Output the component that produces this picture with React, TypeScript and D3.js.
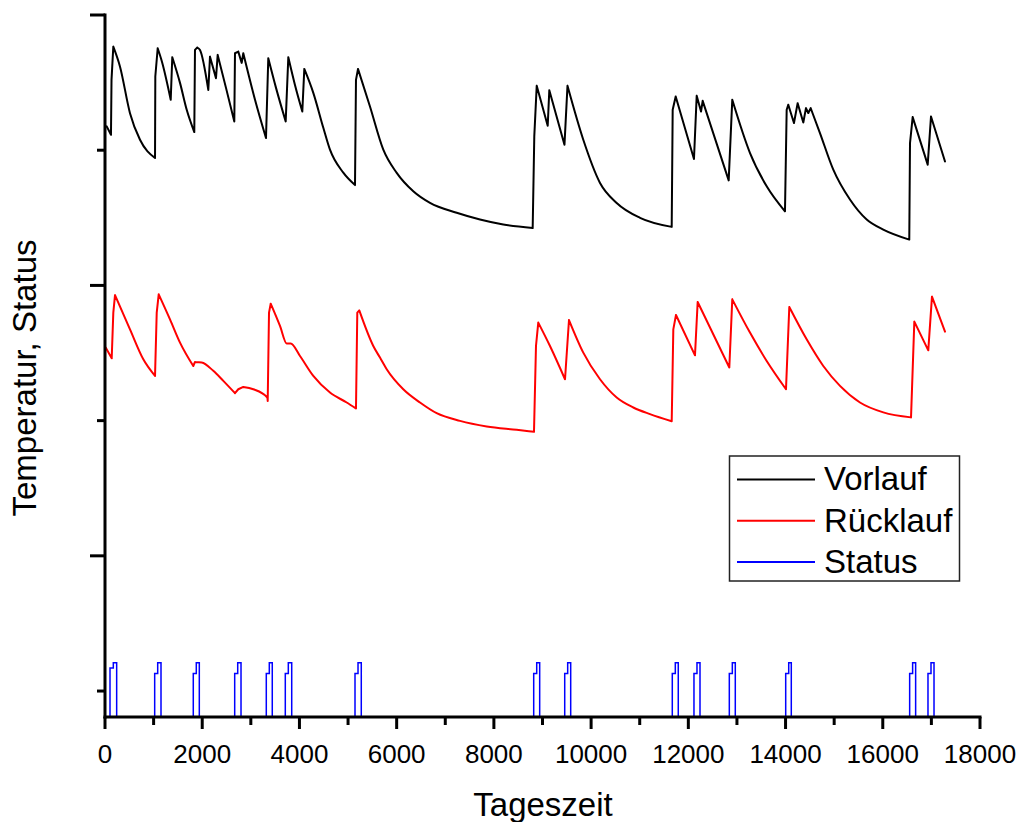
import React from "react";
import * as d3 from "d3";

// [Tageszeit, Temperatur]
const vorlauf: [number, number][] = [
  [35, 51.76], [123, 51.14], [134, 55.2], [171, 57.66], [309, 56.18], [514, 52.74], [720, 50.77], [1029, 49.42],
  [1035, 55.45], [1084, 57.54], [1173, 56.53], [1352, 53.73], [1384, 56.88], [1543, 54.98], [1681, 52.99], [1837, 51.34],
  [1851, 57.42], [1899, 57.59], [1954, 57.42], [2125, 54.46], [2160, 56.92], [2283, 55.33], [2318, 57.05], [2489, 54.61],
  [2660, 52.13], [2674, 57.17], [2742, 57.29], [2812, 56.46], [2845, 57.17], [3086, 53.73], [3312, 50.9],
  [3359, 56.8], [3518, 54.61], [3717, 52.13], [3771, 56.88], [3908, 54.83], [4059, 52.86], [4100, 56.01],
  [4285, 54.24], [4491, 51.66], [4628, 50.04], [4902, 48.34], [5143, 47.42], [5163, 55.2], [5205, 56.01],
  [5451, 53.23], [5725, 50.04], [6001, 48.32], [6342, 46.96], [6686, 46.1], [7235, 45.37], [7714, 44.87],
  [8193, 44.5], [8798, 44.24], [8831, 51.02], [8881, 54.76], [9107, 51.81], [9140, 54.43], [9452, 50.41],
  [9514, 54.76], [9839, 50.77], [10183, 47.58], [10526, 46.1], [11006, 45.0], [11658, 44.33], [11678, 52.99],
  [11740, 53.97], [12116, 49.35], [12172, 54.02], [12261, 52.86], [12295, 53.65], [12830, 47.77], [12904, 53.73],
  [13269, 49.79], [13612, 47.33], [13988, 45.48], [14023, 52.99], [14056, 53.36], [14173, 52.01], [14249, 53.48],
  [14365, 52.05], [14420, 53.11], [14468, 52.75], [14517, 53.11], [14708, 51.27], [14982, 48.56], [15325, 46.35],
  [15669, 44.87], [16010, 44.13], [16545, 43.39], [16560, 50.53], [16615, 52.45], [16924, 48.93], [16992, 52.49],
  [17280, 49.17],
];

const ruecklauf: [number, number][] = [
  [14, 35.4], [138, 34.61], [171, 37.99], [206, 39.28], [514, 36.75], [788, 34.54], [1029, 33.31],
  [1064, 37.99], [1105, 39.34], [1337, 37.49], [1543, 35.77], [1816, 34.04], [1851, 34.34], [1989, 34.3],
  [2228, 33.68], [2434, 32.94], [2674, 32.03], [2742, 32.32], [2845, 32.49], [3051, 32.32], [3339, 31.71],
  [3347, 31.46], [3374, 37.99], [3409, 38.65], [3600, 37.0], [3738, 35.7], [3820, 35.7], [4011, 34.78],
  [4285, 33.31], [4628, 32.08], [4972, 31.34], [5163, 30.9], [5190, 37.99], [5231, 38.15], [5519, 35.52],
  [5657, 34.66], [5795, 33.8], [6136, 32.32], [6480, 31.34], [6823, 30.55], [7303, 29.98], [7852, 29.57],
  [8469, 29.32], [8825, 29.17], [8866, 35.52], [8913, 37.25], [9154, 35.52], [9463, 33.06], [9545, 37.44],
  [9839, 35.03], [10183, 33.06], [10526, 31.71], [10868, 30.97], [11211, 30.48], [11658, 29.95], [11691, 36.75],
  [11746, 37.81], [12137, 34.83], [12192, 38.77], [12843, 33.93], [12904, 38.97], [13268, 36.51], [13612, 34.41],
  [14009, 32.32], [14077, 38.4], [14434, 36.01], [14776, 34.04], [15120, 32.57], [15531, 31.34], [16011, 30.61],
  [16581, 30.24], [16649, 37.32], [16936, 35.2], [17012, 39.17], [17280, 36.58],
];

// status pulses: switch on, step up, switch off
const statusRise = [103, 1022, 1816, 2668, 3318, 3709, 5143, 8819, 9457, 11670, 12116, 12843, 14003, 16553, 16930];
const statusStep = [171, 1084, 1878, 2730, 3380, 3771, 5205, 8881, 9518, 11732, 12178, 12905, 14065, 16614, 16992];
const statusFall = [240, 1152, 1940, 2798, 3441, 3841, 5272, 8942, 9580, 11793, 12240, 12966, 14118, 16676, 17054];
const statusMid = [11.7, 11.3, 11.3, 11.3, 11.3, 11.3, 11.3, 11.3, 11.3, 11.3, 11.3, 11.3, 11.3, 11.3, 11.3];
const statusHigh = 12.1;
const statusOff = 0;
const tEnd = 17280;

const xMajor = [0, 2000, 4000, 6000, 8000, 10000, 12000, 14000, 16000, 18000];
const xMinor = [1000, 3000, 5000, 7000, 9000, 11000, 13000, 15000, 17000];
const yMajor = [20, 40, 60];
const yMinor = [10, 30, 50];

const legendItems = [
  { name: "Vorlauf", color: "#000000" },
  { name: "Rücklauf", color: "#ff0000" },
  { name: "Status", color: "#0000ff" },
];

const font = "'Liberation Sans', Arial, Helvetica, sans-serif";

// split a series into runs going up / going down (shared end points)
function runs(pts: [number, number][]) {
  const out: { up: boolean; pts: [number, number][] }[] = [];
  for (let i = 1; i < pts.length; i++) {
    const up = pts[i][1] > pts[i - 1][1];
    const last = out[out.length - 1];
    if (last && last.up === up) last.pts.push(pts[i]);
    else out.push({ up, pts: [pts[i - 1], pts[i]] });
  }
  return out;
}

export default function App() {
  const x = d3.scaleLinear().domain([0, 18000]).range([105, 980]);
  const y = d3.scaleLinear().domain([8.08, 60]).range([717, 15]).clamp(true);

  // decays smooth, jumps straight
  const smooth = d3
    .line<[number, number]>()
    .x((d) => x(d[0]))
    .y((d) => y(d[1]))
    .curve(d3.curveMonotoneX);
  const straight = d3
    .line<[number, number]>()
    .x((d) => x(d[0]))
    .y((d) => y(d[1]));
  const seriesPath = (pts: [number, number][]) =>
    runs(pts)
      .map((r) => (r.up ? straight(r.pts) : smooth(r.pts)) || "")
      .join("");

  // build the status step series
  const statusPts: [number, number][] = [[0, statusOff]];
  statusRise.forEach((r, i) => {
    statusPts.push([r, statusMid[i]]);
    statusPts.push([statusStep[i], statusHigh]);
    statusPts.push([statusFall[i], statusOff]);
  });
  statusPts.push([tEnd, statusOff]);
  const stepLine = d3
    .line<[number, number]>()
    .x((d) => x(d[0]))
    .y((d) => y(d[1]))
    .curve(d3.curveStepAfter);

  const y0 = 717;

  return (
    <svg
      width={1022}
      height={822}
      style={{ position: "absolute", left: 0, top: 0, background: "#fff" }}
      fontFamily={font}
    >
      <path d={seriesPath(vorlauf)} fill="none" stroke="#000" strokeWidth={2} strokeLinejoin="round" strokeLinecap="round" />
      <path d={seriesPath(ruecklauf)} fill="none" stroke="#ff0000" strokeWidth={2} strokeLinejoin="round" strokeLinecap="round" />
      <path d={stepLine(statusPts) || ""} fill="none" stroke="#0000ff" strokeWidth={1.5} />

      {/* axes */}
      <line x1={x(0)} x2={x(18000)} y1={y0} y2={y0} stroke="#000" strokeWidth={3} strokeLinecap="square" />
      <line x1={x(0)} x2={x(0)} y1={y(60)} y2={y0} stroke="#000" strokeWidth={3} strokeLinecap="square" />
      {xMajor.map((t) => (
        <g key={"xm" + t}>
          <line x1={x(t)} x2={x(t)} y1={y0} y2={y0 + 12} stroke="#000" strokeWidth={3} />
          <text x={x(t)} y={763} fontSize={26} textAnchor="middle">
            {t}
          </text>
        </g>
      ))}
      {xMinor.map((t) => (
        <line key={"xn" + t} x1={x(t)} x2={x(t)} y1={y0} y2={y0 + 8} stroke="#000" strokeWidth={3} />
      ))}
      {yMajor.map((v) => (
        <line key={"ym" + v} x1={x(0) - 15} x2={x(0)} y1={y(v)} y2={y(v)} stroke="#000" strokeWidth={3} />
      ))}
      {yMinor.map((v) => (
        <line key={"yn" + v} x1={x(0) - 8} x2={x(0)} y1={y(v)} y2={y(v)} stroke="#000" strokeWidth={3} />
      ))}

      <text x={543} y={816} fontSize={33} textAnchor="middle">
        Tageszeit
      </text>
      <text transform="translate(36,378) rotate(-90)" fontSize={33} textAnchor="middle">
        Temperatur, Status
      </text>

      {/* legend */}
      <rect x={729.5} y={456} width={230} height={125} fill="#fff" stroke="#222" strokeWidth={1.5} />
      {legendItems.map((it, i) => (
        <g key={it.name}>
          <line x1={737} x2={815} y1={479.5 + i * 41.3} y2={479.5 + i * 41.3} stroke={it.color} strokeWidth={2} />
          <text x={824} y={490 + i * 41.5} fontSize={33}>
            {it.name}
          </text>
        </g>
      ))}
    </svg>
  );
}
